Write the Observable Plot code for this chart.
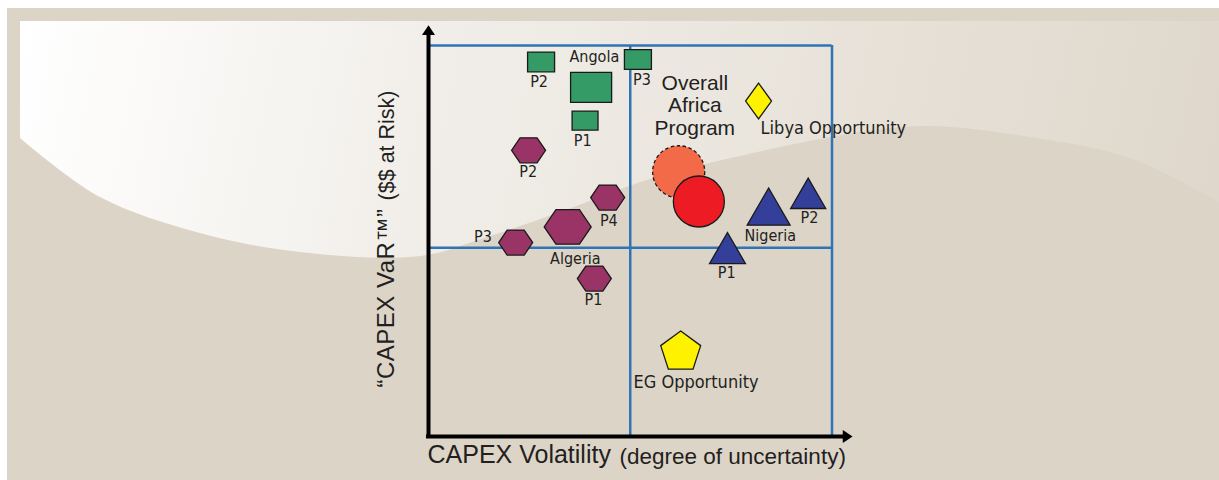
<!DOCTYPE html>
<html><head><meta charset="utf-8">
<script src="https://cdn.jsdelivr.net/npm/d3@7"></script>
<script src="https://cdn.jsdelivr.net/npm/@observablehq/plot@0.6"></script>
<style>
html,body{margin:0;padding:0;background:#fff;}
#wrap{position:relative;width:1219px;height:480px;overflow:hidden;}
#bg{position:absolute;left:0;top:0;}
#chart{position:absolute;left:0;top:0;}
</style></head><body>
<div id="wrap"><svg id="bg" width="1219" height="480"></svg><div id="chart"></div></div>
<script>
// ---------- DATA (axes 0..10) ----------
const angola = [
  {name:"Angola", x:4.03, y:8.93, size:1.52},
  {name:"P1",     x:3.88, y:8.08, size:0.96},
  {name:"P2",     x:2.79, y:9.58, size:1.00},
  {name:"P3",     x:5.19, y:9.64, size:1.00}
];
const algeria = [
  {name:"Algeria", x:3.45, y:5.36, size:1.74},
  {name:"P1",      x:4.11, y:4.04, size:1.26},
  {name:"P2",      x:2.48, y:7.32, size:1.26},
  {name:"P3",      x:2.16, y:4.96, size:1.26},
  {name:"P4",      x:4.44, y:6.11, size:1.26}
];
const nigeria = [
  {name:"Nigeria", x:8.43, y:5.88, size:1.59},
  {name:"P1",      x:7.41, y:4.82, size:1.33},
  {name:"P2",      x:9.41, y:6.22, size:1.30}
];
const overallPrior = [{name:"Overall Africa Program (prior)", x:6.20, y:6.77, size:1.93}];
const overall      = [{name:"Overall Africa Program", x:6.70, y:6.01, size:1.89}];
const libya        = [{name:"Libya Opportunity", x:8.18, y:8.58, size:0.96}];
const eg           = [{name:"EG Opportunity", x:6.25, y:2.21, size:1.48}];

const xDividers = [5, 10];
const yDividers = [4.83, 10];
const axisEnd = {x: 10.51, y: 10.52};

const pointLabels = [
  {text:"Angola",  x:4.11, y:9.71},
  {text:"P2",      x:2.74, y:9.07},
  {text:"P1",      x:3.82, y:7.55},
  {text:"P3",      x:5.29, y:9.11},
  {text:"P2",      x:2.47, y:6.76},
  {text:"P4",      x:4.47, y:5.52},
  {text:"P3",      x:1.35, y:5.10},
  {text:"Algeria", x:3.64, y:4.55},
  {text:"P1",      x:4.09, y:3.49},
  {text:"Nigeria", x:8.47, y:5.13},
  {text:"P2",      x:9.44, y:5.58},
  {text:"P1",      x:7.39, y:4.18}
];
const libyaLabel = [{text:"Libya Opportunity", x:8.23, y:7.88}];
const egLabel = [{text:"EG Opportunity", x:6.63, y:1.39}];
const overallLabel = [{text:"Overall\nAfrica\nProgram", x:6.60, y:8.47}];

const xTitle = "CAPEX Volatility";
const xSubtitle = "(degree of uncertainty)";
const yTitle = "\u201CCAPEX VaR\u2122\u201D";
const ySubtitle = "($$ at Risk)";

// ---------- BACKGROUND DECORATION ----------
(function(){
  const bg = d3.select("#bg");
  const defs = bg.append("defs");
  const g = defs.append("linearGradient").attr("id","lg")
    .attr("gradientUnits","userSpaceOnUse")
    .attr("x1",20).attr("y1",21).attr("x2",1219).attr("y2",260);
  g.append("stop").attr("offset",0).attr("stop-color","#ffffff");
  g.append("stop").attr("offset",0.35).attr("stop-color","#f1eee9");
  g.append("stop").attr("offset",0.7).attr("stop-color","#e7e1d8");
  g.append("stop").attr("offset",1).attr("stop-color","#dfd7cb");
  bg.append("rect").attr("x",7).attr("y",8).attr("width",1212).attr("height",472).attr("fill","#ddd4c8");
  const pts = [[1219,202],[1130,158],[1030,137],[930,126],[860,132],[753,153],[653,178],[560,212],[487,237],[420,256],[300,252],[200,233],[100,197],[20,138]];
  const line = d3.line().curve(d3.curveCatmullRom.alpha(0.5));
  bg.append("path").attr("fill","url(#lg)")
    .attr("d", "M20,21L1219,21L" + line(pts).slice(1) + "Z");
})();

// ---------- SYMBOLS ----------
const R = s => Math.sqrt(s / Math.PI);
const rectSym = {draw(c, s){ const r=R(s), h=r*0.73; c.moveTo(-r,-h); c.lineTo(r,-h); c.lineTo(r,h); c.lineTo(-r,h); c.closePath(); }};
const hexSym = {draw(c, s){ const r=R(s), h=r*0.735, w=r*0.5; c.moveTo(-r,0); c.lineTo(-w,-h); c.lineTo(w,-h); c.lineTo(r,0); c.lineTo(w,h); c.lineTo(-w,h); c.closePath(); }};
const triSym = {draw(c, s){ const r=R(s), h=r*Math.sqrt(3)/2; c.moveTo(0,-h); c.lineTo(r,h); c.lineTo(-r,h); c.closePath(); }};
const diaSym = {draw(c, s){ const r=R(s), h=r*1.38; c.moveTo(0,-h); c.lineTo(r,0); c.lineTo(0,h); c.lineTo(-r,0); c.closePath(); }};
const pentSym = {draw(c, s){ const r=R(s), Rr=r/0.951, off=0.0955*Rr;
  for(let k=0;k<5;k++){ const a=-Math.PI/2 + k*2*Math.PI/5; const px=Rr*Math.cos(a), py=Rr*Math.sin(a)+off; if(k===0) c.moveTo(px,py); else c.lineTo(px,py);} c.closePath(); }};
const circSym = {draw(c, s){ const r=R(s); c.moveTo(r,0); c.arc(0,0,r,0,2*Math.PI); c.closePath(); }};
const arrowSym = {draw(c, s){ const r=R(s), w=r*0.93, L=r*1.4; c.moveTo(0,0); c.lineTo(w,L); c.lineTo(-w,L); c.closePath(); }};

const gridBlue = "#2f74b5";
const ink = "#231f20";
const outline = {stroke:"#1a1a1a", strokeWidth:1.3};
const condFont = "'DejaVu Sans Condensed', 'Liberation Sans Narrow', 'Arial Narrow', sans-serif";
const mainFont = "'Liberation Sans', Arial, Helvetica, sans-serif";

const chart = Plot.plot({
  width: 1219, height: 480,
  marginLeft: 428, marginRight: 387.5, marginTop: 45, marginBottom: 44,
  x: {domain:[0,10], axis:null},
  y: {domain:[0,10], axis:null},
  r: {type:"linear", domain:[0,1], range:[0,13.5]},
  style: {background:"transparent", fontFamily: mainFont, color: ink, overflow:"visible"},
  marks: [
    Plot.ruleX(xDividers, {y1:0, y2:10, stroke:gridBlue, strokeWidth:2.5}),
    Plot.ruleY(yDividers, {x1:0, x2:10, stroke:gridBlue, strokeWidth:2.5}),
    Plot.ruleX([0], {y1:-0.05, y2:axisEnd.y - 0.2, stroke:"#000", strokeWidth:4}),
    Plot.ruleY([0], {x1:-0.05, x2:axisEnd.x - 0.2, stroke:"#000", strokeWidth:4}),
    Plot.dot([{x:0, y:axisEnd.y}], {x:"x", y:"y", r:7, symbol:arrowSym, fill:"#000", stroke:"none"}),
    Plot.dot([{x:axisEnd.x, y:0}], {x:"x", y:"y", r:7, symbol:arrowSym, fill:"#000", stroke:"none", rotate:90}),

    Plot.dot(angola,  {x:"x", y:"y", r:"size", symbol:rectSym, fill:"#349a66", ...outline}),
    Plot.dot(algeria, {x:"x", y:"y", r:"size", symbol:hexSym,  fill:"#9a3366", ...outline}),
    Plot.dot(nigeria, {x:"x", y:"y", r:"size", symbol:triSym,  fill:"#333f99", ...outline}),
    Plot.dot(overallPrior, {x:"x", y:"y", r:"size", symbol:circSym, fill:"#f26a47", stroke:"#1a1a1a", strokeWidth:1.3, strokeDasharray:"3.5,2.5"}),
    Plot.dot(overall, {x:"x", y:"y", r:"size", symbol:circSym, fill:"#ed1c24", ...outline}),
    Plot.dot(libya,   {x:"x", y:"y", r:"size", symbol:diaSym,  fill:"#fff200", ...outline}),
    Plot.dot(eg,      {x:"x", y:"y", r:"size", symbol:pentSym, fill:"#fff200", ...outline}),

    Plot.text(pointLabels, {x:"x", y:"y", text:"text", fontSize:16, fontFamily:condFont, fill:ink}),
    Plot.text(libyaLabel, {x:"x", y:"y", text:"text", fontSize:18, fontFamily:condFont, fill:ink, textAnchor:"start"}),
    Plot.text(egLabel, {x:"x", y:"y", text:"text", fontSize:18, fontFamily:condFont, fill:ink}),
    Plot.text(overallLabel, {x:"x", y:"y", text:"text", fontSize:21, lineHeight:1.06, fontFamily:mainFont, fill:ink}),

    Plot.text([xTitle], {frameAnchor:"bottom-left", text:d=>d, textAnchor:"start", dx:-1, dy:26.3, fontSize:25, fontFamily:mainFont, fill:ink}),
    Plot.text([xSubtitle], {frameAnchor:"bottom-left", text:d=>d, textAnchor:"start", dx:191, dy:27, fontSize:22.5, fontFamily:mainFont, fill:ink}),
    Plot.text([yTitle], {frameAnchor:"left", text:d=>d, rotate:-90, textAnchor:"start", dx:-42.6, dy:146.5, fontSize:24, fontFamily:mainFont, fill:ink}),
    Plot.text([ySubtitle], {frameAnchor:"left", text:d=>d, rotate:-90, textAnchor:"end", dx:-41.7, dy:-150.5, fontSize:21.5, fontFamily:mainFont, fill:ink})
  ]
});
d3.select(chart).selectAll("text").filter(function(){ return this.textContent === yTitle; }).style("letter-spacing", "0.5px");
document.getElementById("chart").appendChild(chart);
</script>
</body></html>
